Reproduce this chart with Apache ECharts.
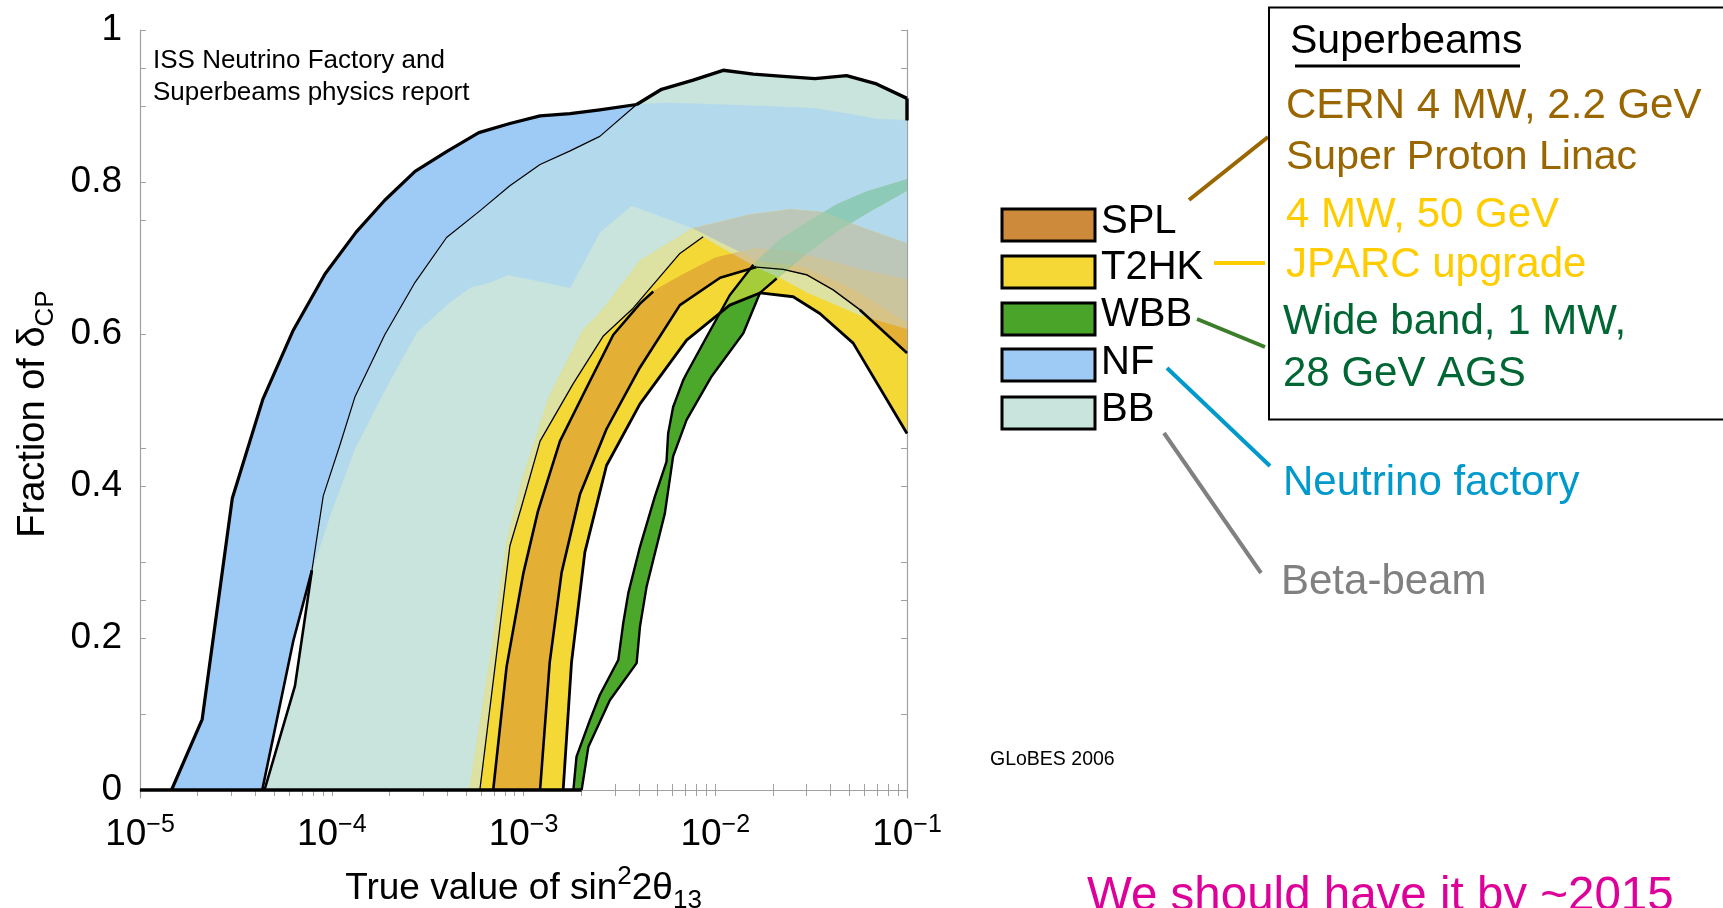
<!DOCTYPE html>
<html>
<head>
<meta charset="utf-8">
<script src="https://cdn.jsdelivr.net/npm/echarts@6.0.0/dist/echarts.min.js"></script>
<style>
  html, body { margin: 0; padding: 0; background: #ffffff; }
  #chart { width: 1723px; height: 908px; }
</style>
</head>
<body>
<div id="chart"></div>
<script>
// Fraction of delta_CP for which CP violation is discovered, vs true sin^2 2theta13.
// Each facility is a band between an optimistic (upper/left) and a conservative
// (lower/right) curve. Points are [sin^2 2theta13, fraction].

const NF_UPPER = [
  [1.46e-5, 0], [2.11e-5, 0.093], [3.03e-5, 0.384], [4.37e-5, 0.514], [6.30e-5, 0.605],
  [9.22e-5, 0.679], [1.34e-4, 0.734], [1.89e-4, 0.776], [2.72e-4, 0.814], [3.97e-4, 0.840],
  [5.85e-4, 0.865], [8.49e-4, 0.877], [1.22e-3, 0.887], [1.75e-3, 0.890], [2.50e-3, 0.895],
  [3.89e-3, 0.902], [5.57e-3, 0.904], [9.75e-3, 0.902], [1.64e-2, 0.900], [3.24e-2, 0.897],
  [4.84e-2, 0.890], [6.93e-2, 0.883], [0.1, 0.881]
];
const NF_LOWER = [
  [4.34e-5, 0], [6.30e-5, 0.196], [7.88e-5, 0.289], [9.79e-5, 0.361], [1.32e-4, 0.449],
  [1.89e-4, 0.526], [2.77e-4, 0.602], [4.05e-4, 0.640], [5.25e-4, 0.661], [6.68e-4, 0.668],
  [8.32e-4, 0.678], [1.75e-3, 0.661], [2.50e-3, 0.734], [3.66e-3, 0.769], [4.73e-3, 0.759],
  [7.67e-3, 0.739], [1.19e-2, 0.715], [1.67e-2, 0.696], [2.76e-2, 0.690], [5.03e-2, 0.662],
  [0.1, 0.615]
];
const BB_UPPER = [
  [4.46e-5, 0], [6.43e-5, 0.137], [7.88e-5, 0.289], [9.03e-5, 0.387], [1.10e-4, 0.453],
  [1.32e-4, 0.517], [1.89e-4, 0.599], [2.72e-4, 0.668], [3.97e-4, 0.727], [5.92e-4, 0.762],
  [8.49e-4, 0.795], [1.22e-3, 0.823], [1.75e-3, 0.841], [2.50e-3, 0.860], [3.89e-3, 0.902],
  [5.25e-3, 0.922], [7.67e-3, 0.934], [1.10e-2, 0.947], [1.58e-2, 0.942], [2.26e-2, 0.939],
  [3.31e-2, 0.936], [4.84e-2, 0.940], [6.93e-2, 0.929], [0.1, 0.910]
];
const BB_LOWER = [
  [5.92e-4, 0], [8.49e-4, 0.321], [9.77e-4, 0.373], [1.22e-3, 0.459], [1.82e-3, 0.535],
  [2.60e-3, 0.597], [3.73e-3, 0.634], [6.54e-3, 0.706], [8.65e-3, 0.728], [1.19e-2, 0.708],
  [1.64e-2, 0.688], [2.26e-2, 0.672], [3.00e-2, 0.655], [4.12e-2, 0.640], [5.67e-2, 0.625],
  [0.1, 0.607]
];
const T2HK_UPPER = [
  [5.25e-4, 0], [6.95e-4, 0.195], [8.16e-4, 0.324], [9.96e-4, 0.411], [1.37e-3, 0.518],
  [2.05e-3, 0.605], [2.60e-3, 0.632], [4.05e-3, 0.696], [7.67e-3, 0.739], [1.52e-2, 0.757],
  [2.50e-2, 0.764], [3.65e-2, 0.760], [5.67e-2, 0.741], [0.1, 0.719]
];
const T2HK_LOWER = [
  [1.61e-3, 0], [1.78e-3, 0.168], [2.09e-3, 0.313], [2.71e-3, 0.427], [4.05e-3, 0.508],
  [7.09e-3, 0.592], [1.19e-2, 0.638], [1.71e-2, 0.654], [2.55e-2, 0.649], [3.51e-2, 0.627],
  [5.24e-2, 0.588], [0.1, 0.469]
];
const SPL_UPPER = [
  [6.95e-4, 0], [8.16e-4, 0.162], [9.96e-4, 0.284], [1.19e-3, 0.367], [1.55e-3, 0.459],
  [2.13e-3, 0.529], [2.94e-3, 0.599], [4.05e-3, 0.640], [4.75e-3, 0.656], [6.54e-3, 0.676],
  [1.00e-2, 0.700], [1.60e-2, 0.712], [2.50e-2, 0.708], [4.00e-2, 0.695], [6.00e-2, 0.683],
  [0.1, 0.671]
];
const SPL_LOWER = [
  [1.22e-3, 0], [1.37e-3, 0.168], [1.58e-3, 0.286], [1.97e-3, 0.389], [2.71e-3, 0.475],
  [4.05e-3, 0.556], [6.54e-3, 0.638], [1.06e-2, 0.674], [1.64e-2, 0.688], [2.26e-2, 0.685],
  [2.99e-2, 0.678], [4.12e-2, 0.658], [5.67e-2, 0.632], [0.1, 0.575]
];
const WBB_UPPER = [
  [1.82e-3, 0], [1.89e-3, 0.044], [2.22e-3, 0.092], [2.50e-3, 0.125], [3.12e-3, 0.171],
  [3.31e-3, 0.219], [3.52e-3, 0.259], [4.05e-3, 0.320], [4.84e-3, 0.386], [5.57e-3, 0.432],
  [5.68e-3, 0.469], [6.03e-3, 0.504], [6.80e-3, 0.539], [7.09e-3, 0.548], [9.01e-3, 0.596],
  [1.19e-2, 0.651], [1.58e-2, 0.691], [2.17e-2, 0.724], [2.99e-2, 0.746], [4.29e-2, 0.770],
  [6.15e-2, 0.787], [0.1, 0.803]
];
const WBB_LOWER = [
  [2.01e-3, 0], [2.18e-3, 0.057], [2.82e-3, 0.118], [3.89e-3, 0.167], [4.05e-3, 0.215],
  [4.38e-3, 0.267], [5.46e-3, 0.364], [6.03e-3, 0.439], [7.09e-3, 0.487], [9.50e-3, 0.543],
  [1.40e-2, 0.601], [1.71e-2, 0.654], [2.09e-2, 0.673], [2.99e-2, 0.706], [4.29e-2, 0.735],
  [6.15e-2, 0.759], [0.1, 0.789]
];

// Axis ticks and labels
const X_LABEL_EXPONENTS = [-5, -4, -3, -2, -1];
const Y_LABEL_VALUES = [0, 0.2, 0.4, 0.6, 0.8, 1];
const Y_TICK_VALUES = [0, 0.1, 0.2, 0.25, 0.3, 0.4, 0.45, 0.6, 0.75, 0.8, 0.9, 0.95, 1];

// Legend and annotation text
const LEGEND_NAMES = ['SPL', 'T2HK', 'WBB', 'NF', 'BB'];
const LEGEND_COLORS = ['#cd8a3a', '#f5d835', '#4aa42a', '#9dcbf6', '#c8e4dc'];
const PLOT_NOTE = ['ISS Neutrino Factory and', 'Superbeams physics report'];

const FONT = '"Liberation Sans", Arial, Helvetica, sans-serif';

// ---------- band geometry (piecewise linear in log10 x) ----------
const BANDS = [
  { id: 'N', upper: NF_UPPER, lower: NF_LOWER },
  { id: 'B', upper: BB_UPPER, lower: BB_LOWER },
  { id: 'T', upper: T2HK_UPPER, lower: T2HK_LOWER },
  { id: 'S', upper: SPL_UPPER, lower: SPL_LOWER },
  { id: 'W', upper: WBB_UPPER, lower: WBB_LOWER }
];

function toLog(c) { return c.map(p => [Math.log10(p[0]), p[1]]); }
function evalAt(c, x) {
  const n = c.length;
  if (x <= c[0][0]) return c[0][1];
  if (x >= c[n - 1][0]) return c[n - 1][1];
  for (let i = 1; i < n; i++) {
    if (x <= c[i][0]) {
      const x0 = c[i - 1][0], y0 = c[i - 1][1], x1 = c[i][0], y1 = c[i][1];
      return x1 === x0 ? y1 : y0 + (y1 - y0) * (x - x0) / (x1 - x0);
    }
  }
  return c[n - 1][1];
}

// Region covered by every band in `members`: between the max of the lower curves
// and the min of the upper curves.
function intersectionPolys(members) {
  const ups = members.map(b => toLog(b.upper));
  const los = members.map(b => toLog(b.lower));
  const all = ups.concat(los);
  let xs = new Set([-5, -1]);
  all.forEach(c => c.forEach(p => xs.add(p[0])));
  xs = Array.from(xs).sort((a, b) => a - b);
  const extra = [];
  for (let i = 0; i < xs.length - 1; i++) {
    const a = xs[i], b = xs[i + 1];
    const va = all.map(c => evalAt(c, a)), vb = all.map(c => evalAt(c, b));
    for (let p = 0; p < all.length; p++) {
      for (let q = p + 1; q < all.length; q++) {
        const da = va[p] - va[q], db = vb[p] - vb[q];
        if ((da > 0 && db < 0) || (da < 0 && db > 0)) extra.push(a + (b - a) * da / (da - db));
      }
    }
  }
  xs = xs.concat(extra).sort((a, b) => a - b);
  const hi = x => Math.min.apply(null, ups.map(c => evalAt(c, x)));
  const lo = x => Math.max.apply(null, los.map(c => evalAt(c, x)));
  const runs = [];
  let cur = null, prev = null;
  for (const x of xs) {
    const h = hi(x), l = lo(x);
    const pt = { x: x, h: h, l: l };
    if (h - l > 1e-6) {
      if (!cur) { cur = []; if (prev) { const m = (prev.h + prev.l) / 2; cur.push({ x: prev.x, h: Math.max(m, 0), l: Math.max(m, 0) }); } }
      cur.push(pt);
    } else if (cur) {
      const m = (h + l) / 2;
      cur.push({ x: x, h: m, l: m });
      runs.push(cur); cur = null;
    }
    prev = pt;
  }
  if (cur) runs.push(cur);
  return runs.map(r => r.map(p => [Math.pow(10, p.x), p.h])
    .concat(r.slice().reverse().map(p => [Math.pow(10, p.x), p.l])));
}

// Colour of each overlap (keys list the covering bands in N,B,T,S,W order)
const REGION_COLORS = {
  N: '#9dcbf6', B: '#c8e4dc', NB: '#b3d9ec',
  T: '#f4d835', TS: '#e3b035', S: '#e3b035', W: '#4ca82a', TW: '#a6cc3a', TSW: '#b5b43a', SW: '#b5b43a',
  BT: '#dde2a2', BTS: '#d8c387', NBT: '#bcc6b9', NBTS: '#cbc59d', NT: '#c3cfae', NTS: '#cfc59a',
  BW: '#a6d2a0', NBW: '#8ecab8', BTW: '#b0d494', NBTW: '#a2c9ae', BTSW: '#b4c58c', NBTSW: '#a9c4a4',
  NW: '#8ec4c0', NTW: '#a2c8a8', NTSW: '#a9c4a4', BS: '#d8c387', NBS: '#cbc59d', NS: '#cfc59a'
};
function hexToRgb(h) { return [1, 3, 5].map(i => parseInt(h.substr(i, 2), 16)); }
function rgbToHex(c) { return '#' + c.map(v => Math.round(v).toString(16).padStart(2, '0')).join(''); }
function mix(a, b, t) { const A = hexToRgb(a), B = hexToRgb(b); return rgbToHex(A.map((v, i) => v * (1 - t) + B[i] * t)); }
function regionColor(key) {
  if (REGION_COLORS[key]) return REGION_COLORS[key];
  const beams = key.replace(/[NB]/g, '');
  const base = REGION_COLORS[beams] || '#ffffff';
  if (key.indexOf('N') >= 0 || key.indexOf('B') >= 0) return mix(base, '#b3d9ec', 0.5);
  return base;
}

const FILLS = [];
const masks = [];
for (let m = 1; m < 32; m++) masks.push(m);
const popcount = m => m.toString(2).split('').filter(c => c === '1').length;
masks.sort((a, b) => popcount(a) - popcount(b) || a - b);
masks.forEach(m => {
  const members = BANDS.filter((b, i) => m & (1 << i));
  const key = members.map(b => b.id).join('');
  intersectionPolys(members).forEach(pts => FILLS.push({ pts: pts, color: regionColor(key) }));
});

// Black outlines that stay visible on top of the filled bands
const CURVES = { NF_UPPER, NF_LOWER, BB_UPPER, BB_LOWER, T2HK_UPPER, T2HK_LOWER, SPL_UPPER, SPL_LOWER, WBB_UPPER, WBB_LOWER };
const OUTLINES = [
  { curve: 'NF_UPPER', from: 0, to: 15, w: 3.2 },
  { curve: 'NF_LOWER', from: 0, to: 2, w: 2.6 },
  { curve: 'BB_UPPER', from: 0, to: 2, w: 2.6 },
  { curve: 'BB_UPPER', from: 2, to: 14, w: 1.2 },
  { curve: 'BB_UPPER', from: 14, to: 99, w: 3.4 },
  { curve: 'BB_LOWER', from: 0, to: 8, w: 1.3 },
  { curve: 'SPL_UPPER', from: 0, to: 8, w: 2.6 },
  { curve: 'SPL_LOWER', from: 0, to: 8, w: 2.6 },
  { curve: 'SPL_LOWER', from: 8, to: 12, w: 1.4 },
  { curve: 'SPL_LOWER', from: 12, to: 99, w: 2.6 },
  { curve: 'T2HK_LOWER', from: 0, to: 99, w: 2.8 },
  { curve: 'WBB_UPPER', from: 0, to: 16, w: 2.4 },
  { curve: 'WBB_LOWER', from: 0, to: 12, w: 2.4 }
];
const lineSeries = OUTLINES.map(o => ({
  type: 'line', silent: true, z: 5, symbol: 'none', showSymbol: false, clip: true,
  data: CURVES[o.curve].slice(o.from, o.to + 1),
  lineStyle: { color: '#000', width: o.w, join: 'round' }
}));
// BB outline closing on the right frame, and the common zero baseline
lineSeries.push({
  type: 'line', silent: true, z: 5, symbol: 'none', clip: false,
  data: [[0.1, BB_UPPER[BB_UPPER.length - 1][1]], [0.1, NF_UPPER[NF_UPPER.length - 1][1]]],
  lineStyle: { color: '#000', width: 3.4 }
});
lineSeries.push({
  type: 'line', silent: true, z: 5, symbol: 'none', clip: true,
  data: [[1e-5, 0], [WBB_LOWER[0][0], 0]],
  lineStyle: { color: '#000', width: 3.6 }
});

// ---------- axes ----------
const X_TICK_VALUES = [];
for (let e = -5; e < -1; e++) for (let m = 1; m <= 9; m++) X_TICK_VALUES.push(m * Math.pow(10, e));
X_TICK_VALUES.push(0.1);

const Y_MIN = -8 / 760;
const frame = { show: true, lineStyle: { color: '#a0a0a0', width: 1.2 } };
const tickStyle = { color: '#a0a0a0', width: 1 };

const option = {
  animation: false,
  backgroundColor: '#ffffff',
  grid: { left: 140, top: 30, width: 767, height: 768, show: false, containLabel: false, outerBoundsMode: 'none' },
  xAxis: [
    {
      type: 'log', logBase: 10, min: 1e-5, max: 0.1, position: 'bottom',
      axisLine: frame, splitLine: { show: false },
      axisTick: { show: true, inside: true, length: 6, lineStyle: tickStyle, customValues: X_TICK_VALUES },
      axisLabel: {
        customValues: X_LABEL_EXPONENTS.map(e => Math.pow(10, e)),
        margin: 15,
        formatter: v => '{b|10}{s|\u2212' + Math.abs(Math.round(Math.log10(v))) + '}',
        rich: {
          b: { fontSize: 37, fontFamily: FONT, color: '#000', lineHeight: 44 },
          s: { fontSize: 25, fontFamily: FONT, color: '#000', lineHeight: 25, verticalAlign: 'top' }
        }
      },
      name: 'True value of sin{sup|2}2\u03b8{sub|13}',
      nameLocation: 'middle', nameGap: 66,
      nameTextStyle: {
        fontSize: 37, fontFamily: FONT, color: '#000', lineHeight: 50,
        rich: {
          sup: { fontSize: 26, fontFamily: FONT, color: '#000', lineHeight: 30, verticalAlign: 'top' },
          sub: { fontSize: 26, fontFamily: FONT, color: '#000', lineHeight: 30, verticalAlign: 'bottom' }
        }
      }
    },
    {
      type: 'log', logBase: 10, min: 1e-5, max: 0.1, position: 'top',
      axisLine: frame, splitLine: { show: false }, axisLabel: { show: false },
      axisTick: { show: true, inside: true, length: 6, lineStyle: tickStyle, customValues: X_TICK_VALUES }
    }
  ],
  yAxis: [
    {
      type: 'value', min: Y_MIN, max: 1, position: 'left',
      axisLine: frame, splitLine: { show: false },
      axisTick: { show: true, inside: true, length: 6, lineStyle: tickStyle, customValues: Y_TICK_VALUES },
      axisLabel: {
        customValues: Y_LABEL_VALUES, margin: 18,
        fontSize: 37, fontFamily: FONT, color: '#000',
        formatter: v => (Math.abs(v) < 1e-9 ? '0' : (Math.abs(v - 1) < 1e-9 ? '1' : String(+v.toFixed(1))))
      },
      name: 'Fraction of \u03b4{sub|CP}',
      nameLocation: 'middle', nameRotate: 90, nameGap: 81,
      nameTextStyle: {
        fontSize: 38, fontFamily: FONT, color: '#000', lineHeight: 50,
        rich: { sub: { fontSize: 26, fontFamily: FONT, color: '#000', lineHeight: 30, verticalAlign: 'bottom' } }
      }
    },
    {
      type: 'value', min: Y_MIN, max: 1, position: 'right',
      axisLine: frame, splitLine: { show: false }, axisLabel: { show: false },
      axisTick: { show: true, inside: true, length: 6, lineStyle: tickStyle, customValues: Y_TICK_VALUES }
    }
  ],
  series: [
    {
      type: 'custom', silent: true, z: 2, clip: true, xAxisIndex: 0, yAxisIndex: 0,
      data: FILLS.map(f => f.pts[0]),
      renderItem: (params, api) => {
        const f = FILLS[params.dataIndex];
        return {
          type: 'polygon',
          shape: { points: f.pts.map(p => api.coord(p)) },
          style: { fill: f.color, stroke: f.color, lineWidth: 0.6 }
        };
      }
    }
  ].concat(lineSeries),
  graphic: []
};

// ---------- annotations ----------
const G = option.graphic;
function label(text, x, y, size, color) {
  G.push({
    type: 'text', x: x, y: y, z: 20, silent: true,
    style: { text: text, x: 0, y: 0, fill: color, fontSize: size, fontFamily: FONT, align: 'left', verticalAlign: 'middle' }
  });
}
function rule(x1, y1, x2, y2, color, w) {
  G.push({ type: 'line', z: 20, silent: true, shape: { x1: x1, y1: y1, x2: x2, y2: y2 }, style: { stroke: color, lineWidth: w } });
}

label(PLOT_NOTE[0], 153, 61, 26, '#000');
label(PLOT_NOTE[1], 153, 92.5, 26, '#000');

// legend swatches
const LEGEND_TOP = [209, 256, 303, 349, 397];
const LEGEND_TEXT_Y = [222, 268, 315, 362.5, 410];
LEGEND_NAMES.forEach((name, i) => {
  G.push({
    type: 'rect', z: 20, silent: true,
    shape: { x: 1002, y: LEGEND_TOP[i], width: 93, height: 32 },
    style: { fill: LEGEND_COLORS[i], stroke: '#000', lineWidth: 3 }
  });
  label(name, 1101, LEGEND_TEXT_Y[i], 40, '#000');
});

// connectors from the legend to the descriptions
rule(1189, 200, 1268, 137, '#996600', 4);
rule(1214, 263, 1265, 263, '#ffcc00', 4);
rule(1197, 319, 1265, 347, '#3c7d2a', 4);
rule(1167, 368, 1270, 466, '#0099cc', 4);
rule(1164, 433, 1261, 573, '#808080', 4);

// description box
G.push({
  type: 'rect', z: 20, silent: true,
  shape: { x: 1269, y: 7.5, width: 700, height: 412 },
  style: { fill: 'none', stroke: '#000', lineWidth: 2 }
});
label('Superbeams', 1290, 41.5, 41, '#000');
rule(1295, 66, 1520, 66, '#000', 3);
label('CERN 4 MW, 2.2 GeV', 1286, 106.7, 42, '#996600');
label('Super Proton Linac', 1286, 157.5, 41, '#996600');
label('4 MW, 50 GeV', 1286, 215, 42, '#ffcc00');
label('JPARC upgrade', 1286, 265, 42, '#ffcc00');
label('Wide band, 1 MW,', 1283, 322.5, 42, '#006633');
label('28 GeV AGS', 1283, 374, 42, '#006633');
label('Neutrino factory', 1283, 483.3, 42, '#0099cc');
label('Beta-beam', 1281, 582, 42, '#808080');
label('GLoBES 2006', 990, 760, 19.5, '#000');
label('We should have it by ~2015', 1087, 897, 47.5, '#dd0099');

const chart = echarts.init(document.getElementById('chart'), null, { renderer: 'canvas', width: 1723, height: 908 });
chart.setOption(option);
</script>
</body>
</html>
